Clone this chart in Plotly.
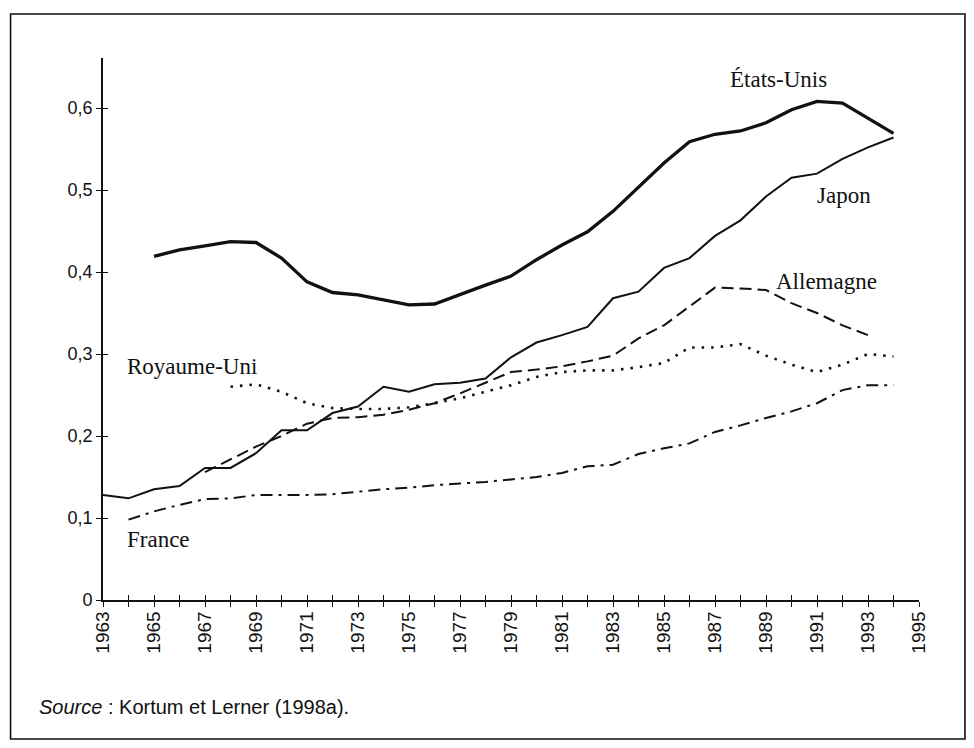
import plotly.graph_objects as go

# ---------------- data ----------------
YEARS = list(range(1963, 1996))
YEAR_LABELS = [str(y) if (y - 1963) % 2 == 0 else "" for y in YEARS]
Y_TICKS = [0, 0.1, 0.2, 0.3, 0.4, 0.5, 0.6]
Y_TICK_LABELS = ["0", "0,1", "0,2", "0,3", "0,4", "0,5", "0,6"]

us_years = list(range(1965, 1995))
us_vals = [0.419, 0.427, 0.432, 0.437, 0.436, 0.417, 0.388, 0.375, 0.372, 0.366,
           0.360, 0.361, 0.373, 0.384, 0.395, 0.415, 0.433, 0.449, 0.474, 0.503,
           0.533, 0.559, 0.568, 0.572, 0.582, 0.598, 0.608, 0.606, 0.587, 0.569]

jp_years = list(range(1963, 1995))
jp_vals = [0.128, 0.124, 0.135, 0.139, 0.161, 0.161, 0.179, 0.207, 0.207, 0.228,
           0.236, 0.260, 0.254, 0.263, 0.265, 0.270, 0.296, 0.314, 0.323, 0.333,
           0.368, 0.376, 0.405, 0.417, 0.444, 0.463, 0.492, 0.515, 0.520, 0.538,
           0.552, 0.564]

de_years = list(range(1967, 1994))
de_vals = [0.156, 0.172, 0.187, 0.200, 0.215, 0.222, 0.223, 0.226, 0.232, 0.240,
           0.252, 0.265, 0.278, 0.281, 0.285, 0.291, 0.298, 0.319, 0.335, 0.358,
           0.381, 0.380, 0.378, 0.362, 0.350, 0.335, 0.323]

uk_years = list(range(1968, 1995))
uk_vals = [0.260, 0.263, 0.254, 0.240, 0.234, 0.233, 0.233, 0.235, 0.240, 0.246,
           0.254, 0.262, 0.272, 0.278, 0.280, 0.280, 0.284, 0.289, 0.308, 0.308,
           0.312, 0.298, 0.287, 0.278, 0.287, 0.300, 0.297]

fr_years = list(range(1964, 1995))
fr_vals = [0.098, 0.108, 0.116, 0.123, 0.124, 0.128, 0.128, 0.128, 0.129, 0.132,
           0.135, 0.137, 0.140, 0.142, 0.144, 0.147, 0.150, 0.155, 0.163, 0.165,
           0.178, 0.185, 0.191, 0.205, 0.213, 0.222, 0.230, 0.240, 0.256, 0.262,
           0.262]

# ---------------- layout geometry (page pixels) ----------------
W, H = 974, 748
OFF = 8                       # default <body> margin of the html page
PL, PR, PT, PB = 102.5, 919, 58, 600
Y_MAX = 0.661


def px_x(p):
    return (p - PL) / (PR - PL)


def px_y(p):
    return (PB - p) / (PB - PT)


SERIF = "Liberation Serif"
SANS = "Liberation Sans"
INK = "#111111"

fig = go.Figure()

common = dict(mode="lines", hoverinfo="skip", showlegend=False)
fig.add_trace(go.Scatter(x=us_years, y=us_vals, line=dict(color=INK, width=3.3), **common))
fig.add_trace(go.Scatter(x=jp_years, y=jp_vals, line=dict(color=INK, width=2), **common))
fig.add_trace(go.Scatter(x=de_years, y=de_vals,
                         line=dict(color=INK, width=2, dash="12px,6px"), **common))
fig.add_trace(go.Scatter(x=uk_years, y=uk_vals,
                         line=dict(color=INK, width=2.6, dash="2.5px,7px"), **common))
fig.add_trace(go.Scatter(x=fr_years, y=fr_vals,
                         line=dict(color=INK, width=2, dash="12px,6px,3px,6px"), **common))
# invisible helper trace for the overlay axes (inner half of crossing ticks)
fig.add_trace(go.Scatter(x=[YEARS[0]], y=[Y_TICKS[0]], xaxis="x2", yaxis="y2",
                         mode="markers", marker=dict(opacity=0), hoverinfo="skip",
                         showlegend=False))

labels = [
    ("États-Unis", 778, 79, "center"),
    ("Japon", 844, 195, "center"),
    ("Allemagne", 826, 281, "center"),
    ("Royaume-Uni", 125, 367, "left"),
    ("France", 125, 539, "left"),
]
for text, xpx, ypx, anchor in labels:
    fig.add_annotation(x=px_x(xpx), y=px_y(ypx), xref="paper", yref="paper",
                       text=text, showarrow=False, xanchor=anchor, yanchor="middle",
                       font=dict(family=SERIF, size=23, color=INK))

fig.add_annotation(x=px_x(36), y=px_y(707), xref="paper", yref="paper",
                   text="<i>Source</i> : Kortum et Lerner (1998a).", showarrow=False,
                   xanchor="left", yanchor="middle",
                   font=dict(family=SANS, size=20, color=INK))

# outer frame
fig.add_shape(type="rect", xref="paper", yref="paper",
              x0=px_x(10), x1=px_x(965), y0=px_y(739), y1=px_y(14),
              line=dict(color=INK, width=1.6), fillcolor="rgba(0,0,0,0)", layer="below")

axis_common = dict(showgrid=False, zeroline=False)
fig.update_layout(
    width=W - OFF, height=H - OFF,
    margin=dict(l=PL - OFF, r=W - PR, t=PT - OFF, b=H - PB, pad=0),
    paper_bgcolor="white", plot_bgcolor="white",
    xaxis=dict(range=[1963, 1995], tickmode="array", tickvals=YEARS, ticktext=YEAR_LABELS,
               tickangle=-90, ticks="outside", ticklen=5, tickwidth=1.2, tickcolor=INK,
               showline=True, linecolor=INK, linewidth=1.6, ticklabelstandoff=-3,
               tickfont=dict(family=SANS, size=19, color=INK), **axis_common),
    yaxis=dict(range=[0, Y_MAX], tickmode="array", tickvals=Y_TICKS, ticktext=Y_TICK_LABELS,
               ticks="outside", ticklen=5, tickwidth=1.2, tickcolor=INK,
               showline=True, linecolor=INK, linewidth=1.6, ticklabelstandoff=0,
               tickfont=dict(family=SANS, size=18, color=INK), **axis_common),
    xaxis2=dict(range=[1963, 1995], overlaying="x", anchor="y2", tickmode="array",
                tickvals=YEARS, ticks="inside", ticklen=5, tickwidth=1.2, tickcolor=INK,
                showticklabels=False, showline=False, **axis_common),
    yaxis2=dict(range=[0, Y_MAX], overlaying="y", anchor="x2", tickmode="array",
                tickvals=Y_TICKS, ticks="inside", ticklen=5, tickwidth=1.2, tickcolor=INK,
                showticklabels=False, showline=False, **axis_common),
)

fig.write_html("out.html")
